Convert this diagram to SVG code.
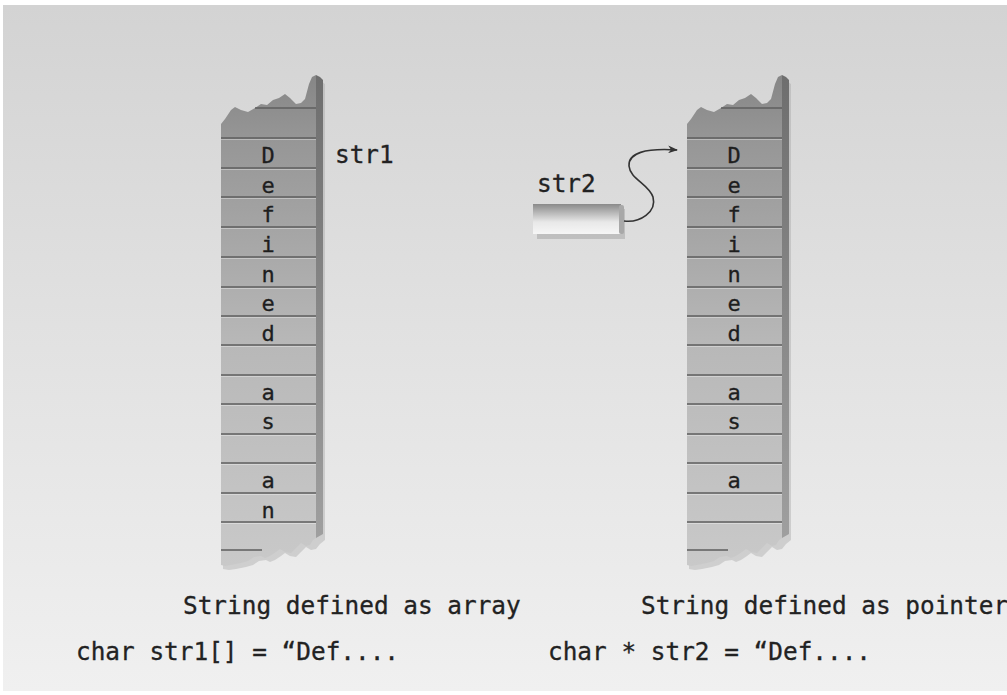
<svg xmlns="http://www.w3.org/2000/svg" width="1007" height="695" viewBox="0 0 1007 695">
<defs>
<linearGradient id="bg" x1="0" y1="0" x2="0" y2="1">
<stop offset="0" stop-color="#d3d3d3"/>
<stop offset="0.5" stop-color="#e2e2e2"/>
<stop offset="1" stop-color="#f0f0f0"/>
</linearGradient>
<linearGradient id="face" gradientUnits="userSpaceOnUse" x1="0" y1="75" x2="0" y2="566">
<stop offset="0" stop-color="#868686"/>
<stop offset="0.13" stop-color="#969696"/>
<stop offset="0.55" stop-color="#b8b8b8"/>
<stop offset="1" stop-color="#c9c9c9"/>
</linearGradient>
<linearGradient id="strip" gradientUnits="userSpaceOnUse" x1="0" y1="75" x2="0" y2="566">
<stop offset="0" stop-color="#6e6e6e"/>
<stop offset="1" stop-color="#a2a2a2"/>
</linearGradient>
<linearGradient id="box" x1="0" y1="0" x2="0" y2="1">
<stop offset="0" stop-color="#8a8a8a"/>
<stop offset="0.6" stop-color="#e8e8e8"/>
<stop offset="1" stop-color="#f6f6f6"/>
</linearGradient>
<marker id="arr" markerWidth="10" markerHeight="8" refX="9" refY="4" orient="auto" markerUnits="userSpaceOnUse">
<path d="M0,0 L10,4 L0,8 L3,4 Z" fill="#333"/>
</marker>
<g id="col">
<path d="M2,126 L6,122 L12,114 L16,111 L22,114 L29,116 L36,112 L42,108 L48,109 L54,105 L62,103 L68,99 L72,103 L77,108 L82,107 L86,104 L90,90 L93,81 L97,79 L104,84 L104,540 L99,544 L95,549 L90,550 L85,547 L80,552 L75,557 L69,556 L64,553 L60,556 L54,560 L49,562 L45,560 L38,561 L32,565 L25,567 L15,569 L8,570 L2,569 Z" fill="#9a9a9a" opacity="0.35"/>
<path d="M95,75 L99,77 L102,80 L102,534 L95,538 Z" fill="url(#strip)"/>
<path d="M0,124 L4,119 L10,110 L14,107 L20,110 L27,112 L34,108 L40,104 L46,105 L52,100 L58,98 L64,94 L69,98 L75,104 L80,103 L84,99 L88,84 L91,77 L95,75 L95,538 L92,540 L89,545 L85,546 L80,543 L75,548 L70,553 L64,552 L59,549 L55,552 L49,556 L44,558 L40,556 L33,557 L27,561 L20,563 L10,565 L4,566 L0,565 Z" fill="url(#face)"/>
<line x1="34" y1="108" x2="95" y2="108" class="rl"/>
<line x1="0" y1="550" x2="41" y2="550" class="rl"/>
<g class="rows">
<line x1="0" y1="138" x2="95" y2="138"/>
<line x1="0" y1="168" x2="95" y2="168"/>
<line x1="0" y1="197" x2="95" y2="197"/>
<line x1="0" y1="227" x2="95" y2="227"/>
<line x1="0" y1="257" x2="95" y2="257"/>
<line x1="0" y1="287" x2="95" y2="287"/>
<line x1="0" y1="316" x2="95" y2="316"/>
<line x1="0" y1="345" x2="95" y2="345"/>
<line x1="0" y1="375" x2="95" y2="375"/>
<line x1="0" y1="404" x2="95" y2="404"/>
<line x1="0" y1="434" x2="95" y2="434"/>
<line x1="0" y1="463" x2="95" y2="463"/>
<line x1="0" y1="493" x2="95" y2="493"/>
<line x1="0" y1="522" x2="95" y2="522"/>
</g>
<g class="hl">
<line x1="0" y1="139.5" x2="95" y2="139.5"/>
<line x1="0" y1="169.5" x2="95" y2="169.5"/>
<line x1="0" y1="198.5" x2="95" y2="198.5"/>
<line x1="0" y1="228.5" x2="95" y2="228.5"/>
<line x1="0" y1="258.5" x2="95" y2="258.5"/>
<line x1="0" y1="288.5" x2="95" y2="288.5"/>
<line x1="0" y1="317.5" x2="95" y2="317.5"/>
<line x1="0" y1="346.5" x2="95" y2="346.5"/>
<line x1="0" y1="376.5" x2="95" y2="376.5"/>
<line x1="0" y1="405.5" x2="95" y2="405.5"/>
<line x1="0" y1="435.5" x2="95" y2="435.5"/>
<line x1="0" y1="464.5" x2="95" y2="464.5"/>
<line x1="0" y1="494.5" x2="95" y2="494.5"/>
<line x1="0" y1="523.5" x2="95" y2="523.5"/>
</g>
</g>
</defs>
<style>
.rows line, .rl { stroke:#5e5e5e; stroke-width:1.6; }
.hl line { stroke:#ffffff; stroke-width:1; opacity:0.35; }
.cell { font-family:"DejaVu Sans Mono","Liberation Mono",monospace; font-size:22px; fill:#1e1e1e; stroke:#1e1e1e; stroke-width:0.3; text-anchor:middle; }
.lbl { font-family:"DejaVu Sans Mono","Liberation Mono",monospace; font-size:24.4px; fill:#222; stroke:#222; stroke-width:0.3; }
.conn { fill:none; stroke:#333; stroke-width:1.6; }
</style>
<rect x="0" y="0" width="1007" height="695" fill="#ffffff"/>
<rect x="3" y="5" width="1004" height="686" fill="url(#bg)"/>

<g id="array-column">
<use href="#col" x="221"/>
<text class="cell" x="268" y="163">D</text>
<text class="cell" x="268" y="192.5">e</text>
<text class="cell" x="268" y="222">f</text>
<text class="cell" x="268" y="252">i</text>
<text class="cell" x="268" y="281.5">n</text>
<text class="cell" x="268" y="311">e</text>
<text class="cell" x="268" y="340.5">d</text>
<text class="cell" x="268" y="399.5">a</text>
<text class="cell" x="268" y="429">s</text>
<text class="cell" x="268" y="488">a</text>
<text class="cell" x="268" y="517.5">n</text>
</g>

<g id="pointer-column">
<use href="#col" x="687"/>
<text class="cell" x="734" y="163">D</text>
<text class="cell" x="734" y="192.5">e</text>
<text class="cell" x="734" y="222">f</text>
<text class="cell" x="734" y="252">i</text>
<text class="cell" x="734" y="281.5">n</text>
<text class="cell" x="734" y="311">e</text>
<text class="cell" x="734" y="340.5">d</text>
<text class="cell" x="734" y="399.5">a</text>
<text class="cell" x="734" y="429">s</text>
<text class="cell" x="734" y="488">a</text>
</g>

<g id="str1-label">
<text class="lbl" x="335" y="163">str1</text>
</g>

<g id="str2-pointer">
<text class="lbl" x="537" y="192">str2</text>
<rect x="537" y="209" width="88" height="30" fill="#9c9c9c" opacity="0.45"/>
<rect x="533" y="204" width="88" height="30" fill="url(#box)"/>
<rect x="619" y="205" width="5" height="29" rx="2" fill="#a8a8a8"/>
</g>

<g id="connectors">
<path class="conn" d="M624,221 C640,223 657,212 653,197 C649,184 630,179 629,166 C628,153 645,148 677,150" marker-end="url(#arr)"/>
</g>

<g id="captions">
<text class="lbl" x="183" y="614">String defined as array</text>
<text class="lbl" x="76" y="660">char str1[] = “Def....</text>
<text class="lbl" x="641" y="614">String defined as pointer</text>
<text class="lbl" x="548" y="660">char * str2 = “Def....</text>
</g>
</svg>
